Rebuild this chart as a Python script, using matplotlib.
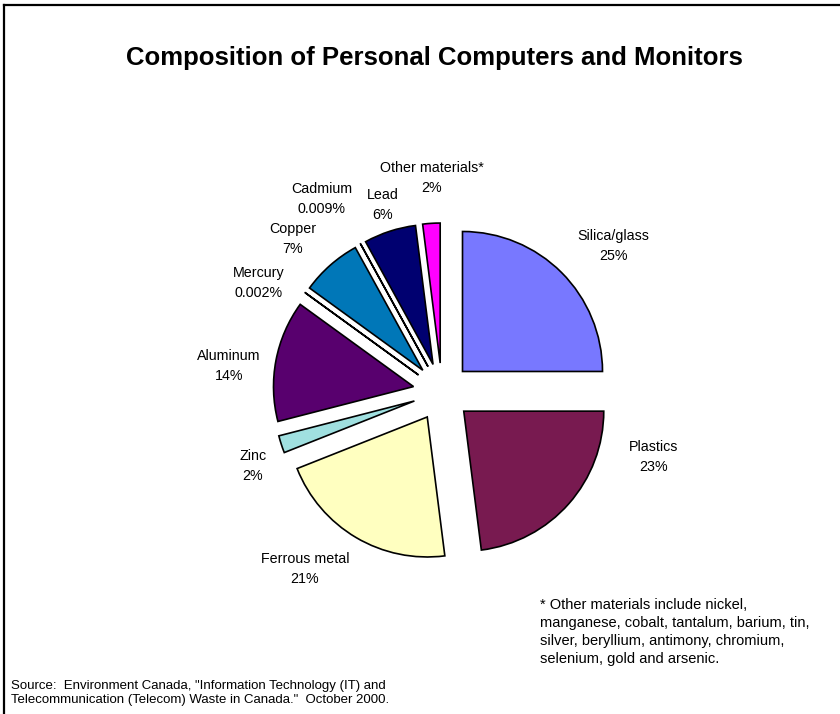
import matplotlib
matplotlib.use("Agg")
import matplotlib.pyplot as plt
from matplotlib.lines import Line2D

# ---------- dados ----------
materials = ["Silica/glass", "Plastics", "Ferrous metal", "Zinc", "Aluminum",
             "Mercury", "Copper", "Cadmium", "Lead", "Other materials*"]
shares = [25, 23, 21, 2, 14, 0.002, 7, 0.009, 6, 2]
share_labels = ["25%", "23%", "21%", "2%", "14%", "0.002%", "7%", "0.009%", "6%", "2%"]
colors = ["#7878FF", "#781A50", "#FFFFC0", "#A0E0E0", "#58006E",
          "#FF8080", "#0077B8", "#CCCCFF", "#000070", "#FF00FF"]

# posicao (px da imagem) do centro de cada rotulo (linha do nome)
label_pos = [(613, 236), (654, 447), (305, 559), (253, 456), (229, 356),
             (259, 273), (293, 229), (322, 189), (383, 195), (432, 168)]

W, H = 840, 714
fig = plt.figure(figsize=(W / 100, H / 100), dpi=100)
fig.patch.set_facecolor("white")
ax = fig.add_axes([0, 0, 1, 1])

plt.rcParams["font.family"] = ["Liberation Sans", "DejaVu Sans"]

# pizza explodida, sentido horario a partir do topo
ax.pie(shares, colors=colors, startangle=90, counterclock=False,
       center=(442, H - 392), radius=140, explode=[29] * len(shares),
       wedgeprops=dict(edgecolor="black", linewidth=1.2),
       normalize=True, frame=True)
ax.set_xlim(0, W); ax.set_ylim(0, H)
ax.set_aspect("equal")
ax.axis("off")

# moldura recortada (so topo e esquerda)
ax.add_line(Line2D([4, W], [H - 5, H - 5], color="black", lw=1.6))
ax.add_line(Line2D([4, 4], [0, H - 5], color="black", lw=1.6))

for name, pct, (px, py) in zip(materials, share_labels, label_pos):
    ax.text(px, H - py, name, ha="center", va="center", fontsize=10.3)
    ax.text(px, H - py - 20, pct, ha="center", va="center", fontsize=10.3)

ax.text(434, H - 58, "Composition of Personal Computers and Monitors",
        ha="center", va="center", fontsize=18.5, fontweight="bold")

ax.text(540, H - 632,
        "* Other materials include nickel,\n"
        "manganese, cobalt, tantalum, barium, tin,\n"
        "silver, beryllium, antimony, chromium,\n"
        "selenium, gold and arsenic.",
        ha="left", va="center", fontsize=10.5, linespacing=1.35)

ax.text(11, H - 693,
        "Source:  Environment Canada, \"Information Technology (IT) and\n"
        "Telecommunication (Telecom) Waste in Canada.\"  October 2000.",
        ha="left", va="center", fontsize=9.5, linespacing=1.3)

fig.savefig("out.png", dpi=100, facecolor="white")
